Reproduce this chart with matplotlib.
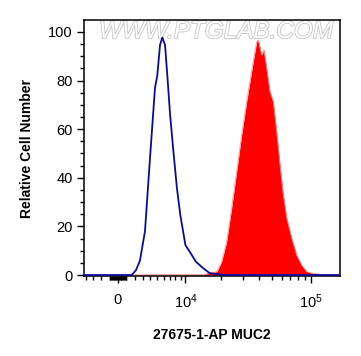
import numpy as np
import matplotlib.pyplot as plt
import matplotlib.patheffects as pe

plt.rcParams['font.family'] = ['Liberation Sans', 'DejaVu Sans']
plt.rcParams['mathtext.default'] = 'regular'

# isotype control (blue line)
ctrl_x = [-4260, 1635, 2163, 2665, 3311, 3986, 4689, 5025, 5433, 5789, 6221, 6667,
          7060, 7647, 8286, 8938, 9986, 11132, 12388, 14238, 16178, 18600, 21600, 168000]
ctrl_y = [0, 0, 2, 6, 18, 48, 77, 82, 94.6, 97.7, 94.6, 79.6,
          66, 50.7, 35.8, 24.7, 12.3, 9, 5.5, 2.9, 0.8, 0.4, 0, 0]

# MUC2 stained (red filled)
muc_x = [-4260, 14238, 18600, 20326, 22290, 24433, 26766, 29306, 32074, 34034, 36115,
         38384, 39497, 41974, 43730, 45888, 48667, 51610, 54830, 58130, 61640,
         65474, 71543, 78167, 85405, 93290, 101914, 121600, 128900, 168000]
muc_y = [0, 0.2, 1.4, 5.5, 13.7, 27.6, 42.5, 57.6, 71.3, 79.5, 87.8,
         96, 96.7, 90.5, 92.6, 85, 75.4, 71.3, 59, 45.3, 33,
         23.5, 15.2, 8.2, 4.1, 1.4, 0.8, 0.2, 0, 0]

W = 6700.0
def fwd(x):
    return np.arcsinh(np.asarray(x) / W)
def inv(y):
    return W * np.sinh(np.asarray(y))

fig = plt.figure(figsize=(3.61, 3.56), dpi=100)
ax = fig.add_axes([0.2327, 0.2247, 0.7091, 0.7191])
ax.set_xscale('function', functions=(fwd, inv))

# watermark
ax.text(0.515, 0.955, 'WWW.PTGLAB.COM', transform=ax.transAxes, ha='center', va='center',
        fontsize=17.5, style='italic', color='white', zorder=1,
        path_effects=[pe.withStroke(linewidth=1.2, foreground='#c4c4c4')])

ax.fill_between(muc_x, muc_y, 0, color='#ff0000', lw=0, zorder=2)
ax.plot(muc_x, muc_y, color='#ff9090', lw=0.6, zorder=2)
ax.plot(ctrl_x, ctrl_y, color='#0a0a9a', lw=1.3, zorder=3)

ax.set_xlim(-4260, 168000)
ax.set_ylim(-0.4, 104.9)

ax.set_xticks([0, 1e4, 1e5])
ax.set_xticklabels(['0', '$10^4$', '$10^5$'])
minor = [-k * 1000 for k in range(1, 5)] + [k * 100 for k in range(-9, 10) if k != 0] \
    + [k * 1000 for k in range(1, 10)] + [k * 10000 for k in range(2, 10)]
ax.set_xticks(minor, minor=True)
ax.set_yticks([0, 20, 40, 60, 80, 100])
ax.set_yticks(np.arange(0, 105, 5), minor=True)

ax.tick_params(axis='both', which='major', length=5, width=1, labelsize=10.5, color='black')
ax.tick_params(axis='both', which='minor', length=3, width=1)
ax.tick_params(axis='x', which='major', pad=7)
ax.tick_params(axis='y', which='major', pad=3)

for s in ax.spines.values():
    s.set_linewidth(1.1)

ax.set_ylabel('Relative Cell Number', fontsize=10, fontweight='bold', labelpad=10)
ax.set_xlabel('27675-1-AP MUC2', fontsize=10, fontweight='bold', labelpad=12)

fig.savefig('out.png', dpi=100)
